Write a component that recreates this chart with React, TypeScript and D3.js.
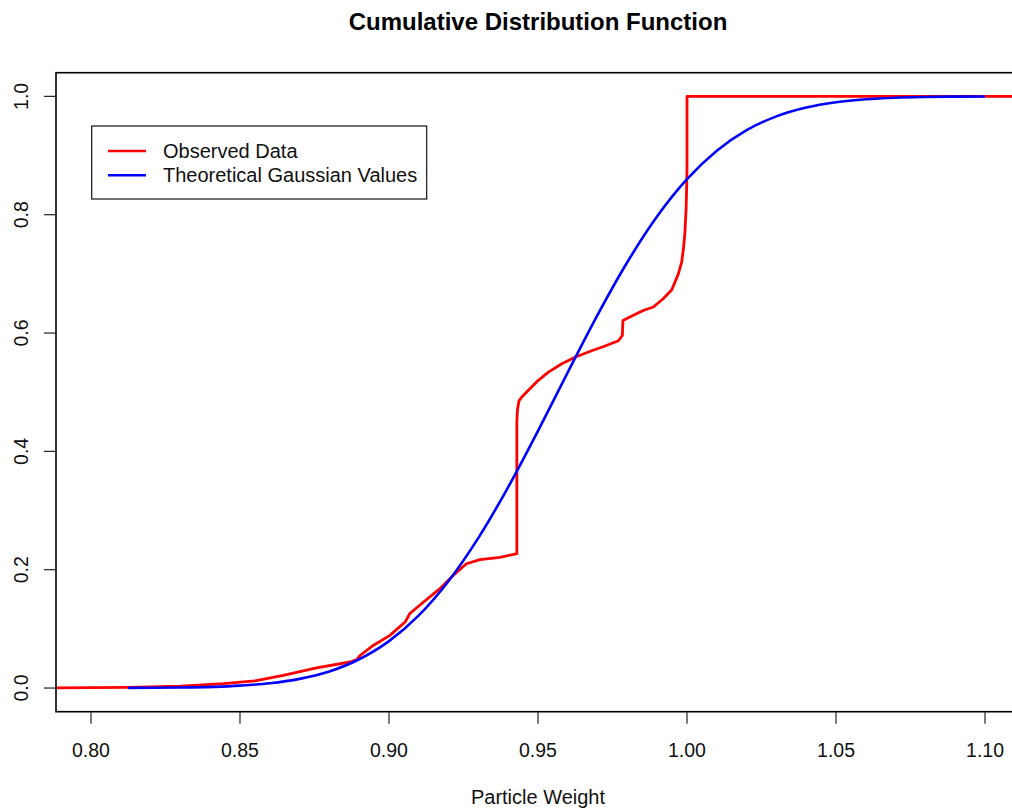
import React, { useEffect, useRef } from 'react';
import * as d3 from 'd3';

const observedX = [
  0.78, 0.8124, 0.83, 0.8444, 0.855, 0.8645, 0.8757, 0.8869, 0.8892, 0.8903,
  0.8947, 0.9003, 0.9054, 0.907, 0.9115, 0.9171, 0.9221, 0.926, 0.9305, 0.9372,
  0.9429, 0.9429, 0.9431, 0.9436, 0.9445, 0.9467, 0.9501, 0.9535, 0.958, 0.9624,
  0.968, 0.9725, 0.977, 0.9783, 0.9785, 0.982, 0.9853, 0.9887, 0.992, 0.9949,
  0.9971, 0.9982, 0.9988, 0.9993, 0.9997, 0.9999, 1.0, 1.0, 1.12
];
const observedY = [
  0, 0.001, 0.003, 0.0074, 0.012, 0.0215, 0.034, 0.044, 0.048, 0.055,
  0.072, 0.089, 0.1115, 0.126, 0.145, 0.168, 0.193, 0.21, 0.217, 0.221,
  0.227, 0.45, 0.47, 0.485, 0.4916, 0.503, 0.52, 0.534, 0.548, 0.559,
  0.57, 0.578, 0.587, 0.596, 0.621, 0.63, 0.638, 0.644, 0.658, 0.673,
  0.7, 0.72, 0.742, 0.77, 0.81, 0.85, 0.88, 1.0, 1.0
];

// Theoretical gaussian curve
const gaussianX = [
  0.8124, 0.83, 0.85, 0.86, 0.87, 0.88, 0.89, 0.9, 0.91, 0.92, 0.93, 0.94, 0.95,
  0.96, 0.97, 0.98, 0.99, 1.0, 1.01, 1.02, 1.03, 1.04, 1.05, 1.06, 1.07, 1.08,
  1.09, 1.1
];
const gaussianY = [
  0.0002, 0.0008, 0.004, 0.008, 0.0155, 0.028, 0.0486, 0.0793, 0.1228, 0.181,
  0.2538, 0.3397, 0.4347, 0.5337, 0.6307, 0.72, 0.7973, 0.86, 0.908, 0.9428,
  0.9662, 0.9811, 0.99, 0.995, 0.9976, 0.9989, 0.9996, 0.9998
];

const xTicks = [0.8, 0.85, 0.9, 0.95, 1.0, 1.05, 1.1];
const yTicks = [0, 0.2, 0.4, 0.6, 0.8, 1.0];
const seriesNames = ['Observed Data', 'Theoretical Gaussian Values'];
const seriesColors = ['#ff0000', '#0000ff'];

export default function App() {
  const svgRef = useRef<SVGSVGElement>(null);

  useEffect(() => {
    if (!svgRef.current) return;
    const svg = d3.select(svgRef.current);
    svg.selectAll('*').remove();

    const width = 1012;
    const height = 809;
    const margin = { top: 72.7, right: -8, bottom: 97.3, left: 56 };
    const left = margin.left;
    const right = width - margin.right;
    const top = margin.top;
    const bottom = height - margin.bottom;

    // R style: 4% extension beyond [0.80, 1.10] and [0, 1]
    const xScale = d3.scaleLinear().domain([0.78826, 1.11174]).range([left, right]);
    const yScale = d3.scaleLinear().domain([-0.04, 1.04]).range([bottom, top]);

    const font = 'Liberation Sans, Arial, Helvetica, sans-serif';

    svg.append('rect').attr('width', width).attr('height', height).attr('fill', 'white');

    svg.append('defs').append('clipPath').attr('id', 'plot-clip')
      .append('rect')
      .attr('x', left).attr('y', top)
      .attr('width', right - left).attr('height', bottom - top);

    // Title
    svg.append('text')
      .attr('x', (left + right) / 2)
      .attr('y', 30)
      .attr('text-anchor', 'middle')
      .attr('font-family', font)
      .attr('font-weight', 'bold')
      .attr('font-size', 24)
      .text('Cumulative Distribution Function');

    // Curves
    const plot = svg.append('g').attr('clip-path', 'url(#plot-clip)');

    const gaussData: Array<[number, number]> = gaussianX.map((x, i) => [x, gaussianY[i]]);
    const obsData: Array<[number, number]> = observedX.map((x, i) => [x, observedY[i]]);

    plot.append('path')
      .attr('fill', 'none')
      .attr('stroke', seriesColors[0])
      .attr('stroke-width', 2.8)
      .attr('stroke-linejoin', 'round')
      .attr('d', d3.line<[number, number]>()
        .x(d => xScale(d[0]))
        .y(d => yScale(d[1]))(obsData));

    plot.append('path')
      .attr('fill', 'none')
      .attr('stroke', seriesColors[1])
      .attr('stroke-width', 2.6)
      .attr('d', d3.line<[number, number]>()
        .x(d => xScale(d[0]))
        .y(d => yScale(d[1]))
        .curve(d3.curveMonotoneX)(gaussData));

    // Box
    svg.append('rect')
      .attr('x', left).attr('y', top)
      .attr('width', right - left).attr('height', bottom - top)
      .attr('fill', 'none')
      .attr('stroke', '#000')
      .attr('stroke-width', 1.6);

    // X axis ticks and labels
    const xAxis = svg.append('g');
    xTicks.forEach(t => {
      xAxis.append('line')
        .attr('x1', xScale(t)).attr('x2', xScale(t))
        .attr('y1', bottom).attr('y2', bottom + 12)
        .attr('stroke', '#222').attr('stroke-width', 1.2);
      xAxis.append('text')
        .attr('x', xScale(t))
        .attr('y', 756.5)
        .attr('text-anchor', 'middle')
        .attr('font-family', font)
        .attr('font-size', 19.5)
        .attr('fill', '#111')
        .text(d3.format('.2f')(t));
    });

    // Y axis ticks and labels
    const yAxis = svg.append('g');
    yTicks.forEach(t => {
      yAxis.append('line')
        .attr('x1', left - 12).attr('x2', left)
        .attr('y1', yScale(t)).attr('y2', yScale(t))
        .attr('stroke', '#222').attr('stroke-width', 1.2);
      yAxis.append('text')
        .attr('transform', `translate(28,${yScale(t)}) rotate(-90)`)
        .attr('text-anchor', 'middle')
        .attr('font-family', font)
        .attr('font-size', 19.5)
        .attr('fill', '#111')
        .text(d3.format('.1f')(t));
    });

    // X label
    svg.append('text')
      .attr('x', (left + right) / 2)
      .attr('y', 804)
      .attr('text-anchor', 'middle')
      .attr('font-family', font)
      .attr('font-size', 20)
      .attr('fill', '#111')
      .text('Particle Weight');

    // Legend
    const legend = svg.append('g');
    legend.append('rect')
      .attr('x', 91.7).attr('y', 126)
      .attr('width', 335).attr('height', 73)
      .attr('fill', 'white')
      .attr('stroke', '#111')
      .attr('stroke-width', 1.2);
    seriesNames.forEach((name, i) => {
      const y = 151 + i * 24.3;
      legend.append('line')
        .attr('x1', 108).attr('x2', 146)
        .attr('y1', y).attr('y2', y)
        .attr('stroke', seriesColors[i])
        .attr('stroke-width', 2.6);
      legend.append('text')
        .attr('x', 163)
        .attr('y', y + 7)
        .attr('font-family', font)
        .attr('font-size', 20)
        .attr('fill', '#111')
        .text(name);
    });
  }, []);

  return (
    <div style={{ position: 'absolute', left: 0, top: 0, width: 1012, height: 809, overflow: 'hidden' }}>
      <svg ref={svgRef} width={1012} height={809} style={{ display: 'block' }} />
    </div>
  );
}
